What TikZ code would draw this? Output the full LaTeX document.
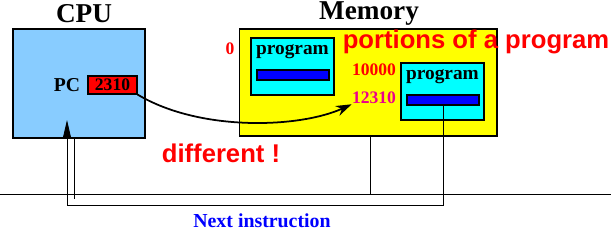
\documentclass[tikz,border=0pt]{standalone}
\usepackage{fontspec}
\setmainfont{Liberation Serif}
\newfontfamily\redfont{Liberation Sans}
\usetikzlibrary{arrows.meta}

\definecolor{cpublue}{RGB}{136,204,255}
\definecolor{memyellow}{RGB}{255,255,0}
\definecolor{progcyan}{RGB}{0,255,255}
\definecolor{barblue}{RGB}{0,0,255}
\definecolor{nextblue}{RGB}{0,0,255}

\tikzset{
  unitbox/.style={draw,line width=0.6pt,inner sep=0pt},
  headtext/.style={font=\fontsize{15.5}{18}\selectfont\bfseries},
  progtext/.style={font=\fontsize{11}{13}\selectfont\bfseries,inner sep=0pt},
  addrtext/.style={font=\fontsize{10}{12}\selectfont\bfseries,inner sep=0pt},
  notetext/.style={font=\redfont\fontsize{14.6}{17}\selectfont\bfseries,text=red,inner sep=0pt},
  wire/.style={line width=0.5pt}
}

\begin{document}
\begin{tikzpicture}[x=0.02cm,y=-0.02cm]
\useasboundingbox (0,0) rectangle (611,232);

% CPU
\node[unitbox,fill=cpublue,minimum width=2.64cm,minimum height=2.18cm] (cpu) at (79,83.5) {};
\node[headtext] (cpulabel) at (84,14) {CPU};
\node[font=\fontsize{11.2}{13}\selectfont\bfseries,inner sep=0pt] (pclabel) at (67,85) {PC};
\node[unitbox,fill=red,minimum width=0.98cm,minimum height=0.36cm,
      font=\fontsize{10}{11}\selectfont\bfseries] (pc) at (112.5,85) {2310};

% Memory
\node[unitbox,fill=memyellow,minimum width=5.16cm,minimum height=2.14cm] (mem) at (368,82.5) {};
\node[headtext] (memlabel) at (369,14) {Memory};

\node[unitbox,fill=progcyan,minimum width=1.66cm,minimum height=1.14cm] (progA) at (292.5,66.5) {};
\node[progtext,anchor=north] (progAlabel) at ([yshift=-4pt]progA.north) {program};
\node[unitbox,fill=barblue,minimum width=1.44cm,minimum height=0.2cm] (barA) at (293,75) {};

\node[unitbox,fill=progcyan,minimum width=1.66cm,minimum height=1.14cm] (progB) at (442.5,91.5) {};
\node[progtext,anchor=north] (progBlabel) at ([yshift=-4pt]progB.north) {program};
\node[unitbox,fill=barblue,minimum width=1.44cm,minimum height=0.2cm] (barB) at (443,100) {};

\node[addrtext,text=red] (addrzero) at (230,49) {0};
\node[addrtext,text=red] (addrbase) at (374,70) {10000};
\node[addrtext,text=magenta] (addrpc) at (374,98) {12310};

\node[notetext] (portions) at (476,42) {portions of a program};
\node[notetext] (different) at (221,153) {different !};

% bus
\coordinate (busL) at (0,194);
\coordinate (busR) at (611,194);
\draw[wire] (busL) -- (busR);
\draw[wire] (mem.south -| 370,0) -- (370,194);
\draw[wire] (cpu.south -| 74,0) -- (74,199);

% next instruction
\coordinate (turnR) at (443,205);
\coordinate (turnL) at (67,205);
\coordinate (tipPC) at (67,120);
\draw[wire,-{Triangle[length=10pt,width=4.5pt]}] (barB.south) -- (turnR) -- (turnL) -- (tipPC);
\node[font=\fontsize{11.3}{13}\selectfont\bfseries,text=nextblue,anchor=base,inner sep=0pt] (nextlabel) at (262,228) {Next instruction};

% relocation arrow
\draw[line width=1pt,-{Stealth[length=9pt,width=6pt]}] (pc.south east) .. controls (200,132) and (300,128) .. (addrpc.south west);
\end{tikzpicture}
\end{document}
